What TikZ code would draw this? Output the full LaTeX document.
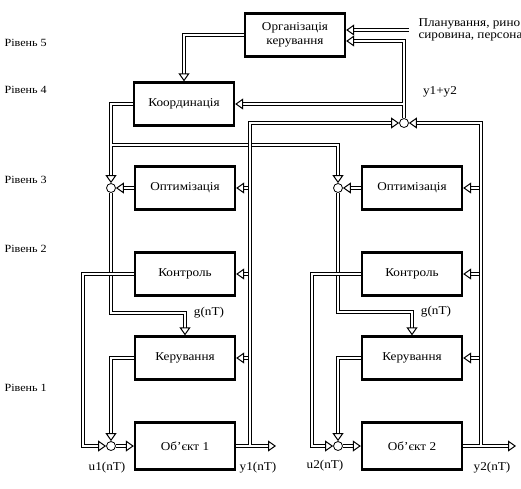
\documentclass[tikz,border=0pt]{standalone}
\usepackage{fontspec}
\setmainfont{Liberation Serif}[FakeStretch=1.1]
\usetikzlibrary{arrows.meta}
\tikzset{
  >={Triangle[open,length=8pt,width=11pt]},
}
\tikzstyle{block}=[draw,line width=2.3pt,minimum width=100pt,minimum height=43pt,align=center]
\tikzstyle{wire}=[->,double,double distance=2pt,line width=1pt]
\tikzstyle{branch}=[wire,shorten <=1pt]
\tikzstyle{sum}=[circle,draw,fill=white,line width=0.8pt,inner sep=0pt,minimum size=9pt]
\tikzstyle{level}=[font=\fontsize{11}{12}\selectfont,anchor=west]
\tikzstyle{every node}=[font=\fontsize{12}{14}\selectfont]

\begin{document}
\begin{tikzpicture}[x=1pt,y=-1pt]
  \useasboundingbox (0,0) rectangle (521,488);
  % levels
  \foreach \l/\y in {5/43,4/90,3/180,2/249,1/388}
    \node[level] (r\l) at (1,\y) {Рівень \l};

  % blocks
  \node[block] (org) at (295,35) {Організація\\керування};
  \node[block] (koord) at (184,104) {Координація};
  \foreach \i/\x in {1/185,2/412}{
    \node[block] (opt\i) at (\x,188) {Оптимізація};
    \node[block] (kon\i) at (\x,274) {Контроль};
    \node[block] (ker\i) at (\x,358) {Керування};
    \node[block,minimum height=47pt] (obj\i) at (\x,446) {Об'єкт \i};
    \node[sum] (t\i) at (\x-74,188) {};
    \node[sum] (b\i) at (\x-74,446) {};
  }
  \node[sum] (s0) at (404,123) {};

  % labels
  \node[anchor=west,align=left,font=\fontsize{12}{12}\selectfont] (plan) at (415,30)
    {Планування, рино\\сировина, персона};
  \node (sig) at (440,92) {y1+y2};
  \node (g1) at (209,313) {g(nT)};
  \node (g2) at (436,312) {g(nT)};
  \node (u1) at (107,468) {u1(nT)};
  \node (u2) at (325,466) {u2(nT)};
  \node (y1) at (258,468) {y1(nT)};
  \node (y2) at (492,468) {y2(nT)};

  \coordinate (in) at (409,30);
  \coordinate (kb) at (111,145);
  \foreach \i/\l/\f/\o in {1/83/250/276,2/312/481/516}{
    \coordinate (l\i) at (\l,446);
    \coordinate (f\i) at (\f,446);
    \coordinate (o\i) at (\o,446);
  }

  % top levels
  \draw[wire] (in) -- (org.east |- in);
  \draw[wire] (org.west) -| (koord.north);
  \draw[wire] (s0.north) |- ([yshift=-6pt]org.east);
  \draw[branch] (s0 |- koord.east) -- (koord.east);
  \draw[wire] (koord.west) -| (t1.north);
  \draw[branch] (kb) -| (t2.north);

  % local loops
  \foreach \i in {1,2}{
    \draw[wire] (opt\i.west) -- (t\i.east);
    \draw[wire] (t\i.south) -- (t\i |- g\i) -| (ker\i.north);
    \draw[wire] (kon\i.west) -| (l\i) -- (b\i.west);
    \draw[wire] (ker\i.west) -| (b\i.north);
    \draw[wire] (b\i.east) -- (obj\i.west);
    \draw[wire] (obj\i.east) -- (o\i);
    \foreach \n in {opt,kon,ker}
      \draw[branch] (f\i |- \n\i.east) -- (\n\i.east);
  }
  \draw[branch] (f1) |- (s0.west);
  \draw[branch] (f2) |- (s0.east);
\end{tikzpicture}
\end{document}
